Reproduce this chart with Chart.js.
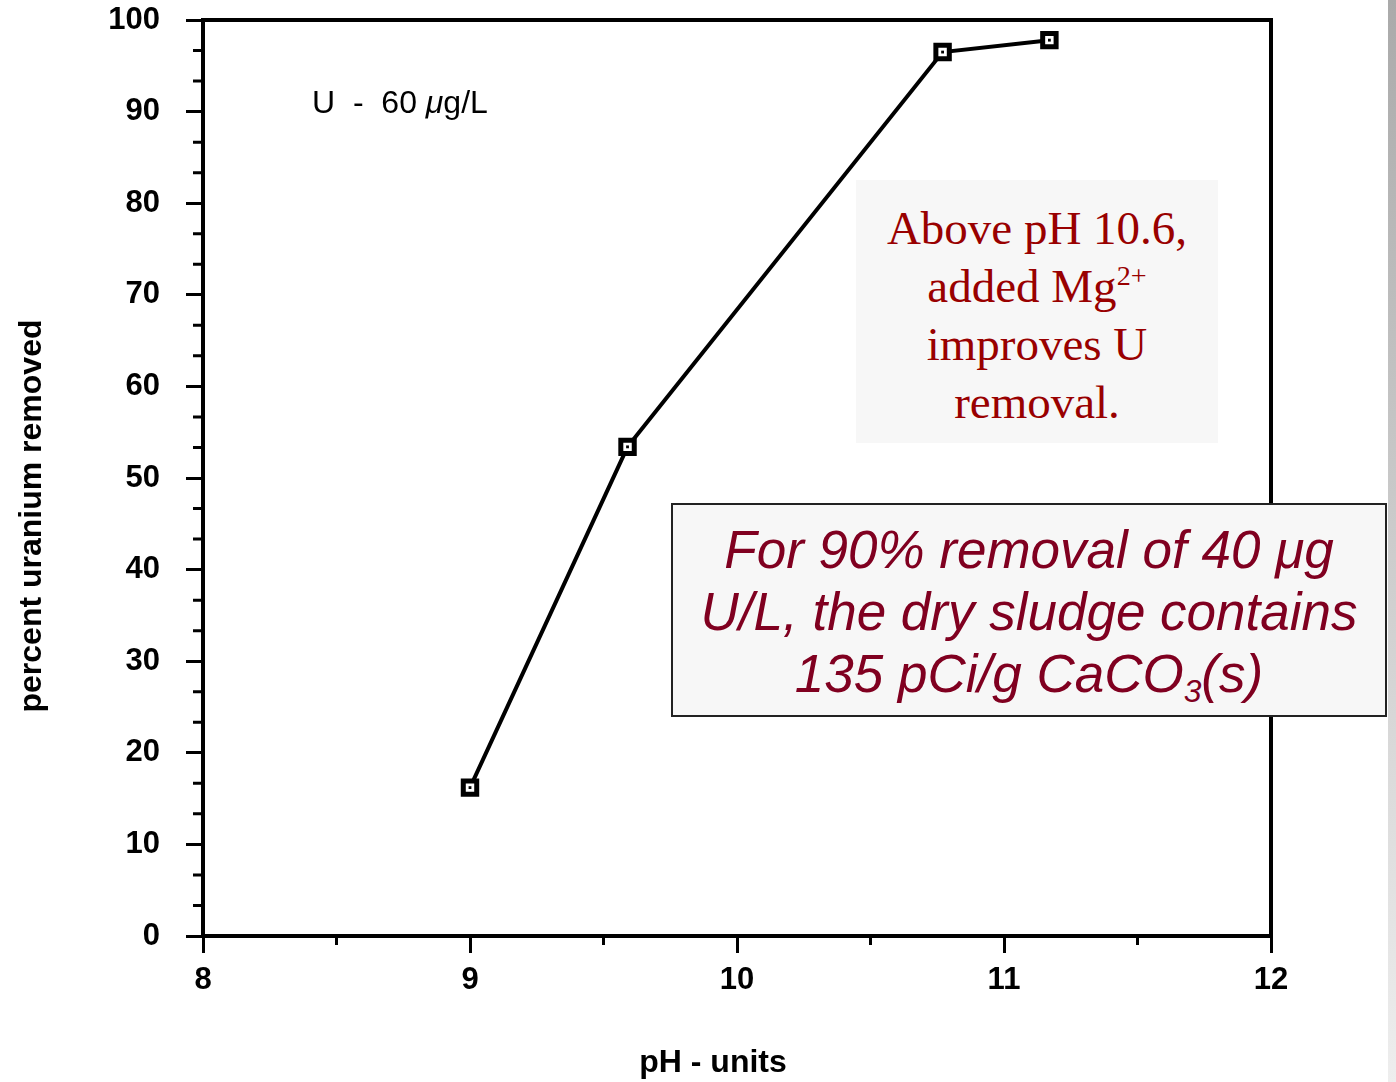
<!DOCTYPE html>
<html>
<head>
<meta charset="utf-8">
<title>Percent uranium removed vs pH</title>
<script src="https://cdn.jsdelivr.net/npm/chart.js@4.4.1/dist/chart.umd.min.js"></script>
<style>
  body { margin: 0; background: #fff; }
  .wrap { position: relative; width: 1396px; height: 1082px; overflow: hidden; }
  canvas { position: absolute; left: 0; top: 0; }
  .note {
    position: absolute; left: 312px; top: 84px;
    font: 32px "Liberation Sans", Arial, sans-serif; color: #000; white-space: pre;
  }
  .mg {
    position: absolute; left: 856px; top: 180px; width: 362px; height: 263px;
    box-sizing: border-box; padding-top: 19px;
    background: #f7f7f7; color: #990000; text-align: center;
    font: 47px/58px "Liberation Serif", "Times New Roman", serif;
  }
  .sludge {
    position: absolute; left: 671px; top: 503px; width: 716px; height: 214px;
    box-sizing: border-box; padding-top: 14px;
    border: 2px solid #222; background: #f7f7f7; color: #800020; text-align: center;
    font: italic 53px/62px "Liberation Sans", Arial, sans-serif;
  }
  .sup { font-size: 0.6em; line-height: 0; position: relative; top: -0.6em; }
  .sub { font-size: 0.6em; line-height: 0; position: relative; top: 0.3em; }
  .edge { position: absolute; right: 0; top: 0; width: 8px; height: 100%; background: linear-gradient(#aaa, #eee); }
</style>
</head>
<body>

<div class="wrap">
    <canvas id="chart" width="1396" height="1082"></canvas>
    <div class="note">U  -  60 <i>μ</i>g/L</div>
    <div class="mg">Above pH 10.6,<br>added Mg<span class="sup">2+</span><br>improves U<br>removal.</div>
    <div class="sludge">For 90% removal of 40 μg<br>U/L, the dry sludge contains<br>135 pCi/g CaCO<span class="sub">3</span>(s)</div>
    <div class="edge"></div>
</div>

<script>

    const phValues = [9.0, 9.59, 10.77, 11.17]
    const percentRemoved = [16.2, 53.4, 96.5, 97.8]

    const xTicks = [8, 9, 10, 11, 12]
    const yTicks = [0, 10, 20, 30, 40, 50, 60, 70, 80, 90, 100]
    const xMinor = [8.5, 9.5, 10.5, 11.5]
    const yMinor = yTicks.slice(0, -1).flatMap(v => [v + 10 / 3, v + 20 / 3])

    const xTitle = "pH - units"
    const yTitle = "percent uranium removed"

    const points = phValues.map((ph, i) => ({x: ph, y: percentRemoved[i]}))

    const tickFont = {family: '"Liberation Sans", Arial, sans-serif', size: 31, weight: 'bold'}

    const frame = {
        id: 'frame',
        afterDraw(chart) {
            const {ctx, chartArea: a, scales: {x, y}} = chart
            ctx.save()
            ctx.strokeStyle = '#000'
            ctx.lineWidth = 4
            ctx.beginPath()
            ctx.moveTo(a.left - 2, a.top)
            ctx.lineTo(a.right, a.top)
            ctx.lineTo(a.right, a.bottom)
            ctx.stroke()

            ctx.lineWidth = 3
            ctx.beginPath()
            yMinor.forEach(v => {
                const py = y.getPixelForValue(v)
                ctx.moveTo(a.left, py)
                ctx.lineTo(a.left - 10, py)
            })
            xMinor.forEach(v => {
                const px = x.getPixelForValue(v)
                ctx.moveTo(px, a.bottom)
                ctx.lineTo(px, a.bottom + 9)
            })
            ctx.stroke()

            ctx.fillStyle = '#000'
            ctx.font = 'bold 32px "Liberation Sans", Arial, sans-serif'
            ctx.textAlign = 'center'
            ctx.textBaseline = 'middle'
            ctx.fillText(xTitle, 713, 1063)
            ctx.translate(32, 516)
            ctx.rotate(-Math.PI / 2)
            ctx.fillText(yTitle, 0, 0)
            ctx.restore()
        }
    }

    new Chart(document.getElementById('chart'), {
        type: 'scatter',
        data: {
            datasets: [
                {
                    // little dot inside each square marker
                    data: points,
                    order: 0,
                    showLine: false,
                    pointStyle: 'rect',
                    pointRadius: 2,
                    pointBackgroundColor: '#000',
                    pointBorderWidth: 0,
                },
                {
                    data: points,
                    order: 1,
                    showLine: true,
                    borderColor: '#000',
                    borderWidth: 4,
                    pointStyle: 'rect',
                    pointRadius: 9.5,
                    pointBorderWidth: 5,
                    pointBorderColor: '#000',
                    pointBackgroundColor: '#fff',
                }
            ]
        },
        options: {
            responsive: false,
            animation: false,
            layout: {padding: {top: 20, right: 125, left: 0, bottom: 0}},
            plugins: {legend: {display: false}, tooltip: {enabled: false}},
            scales: {
                x: {
                    type: 'linear',
                    min: 8,
                    max: 12,
                    afterBuildTicks: s => { s.ticks = xTicks.map(v => ({value: v})) },
                    afterFit: s => { s.height = 146 },
                    ticks: {font: tickFont, color: '#000', padding: 9},
                    grid: {drawOnChartArea: false, color: '#000', lineWidth: 3, tickLength: 17},
                    border: {display: true, color: '#000', width: 4},
                },
                y: {
                    min: 0,
                    max: 100,
                    afterBuildTicks: s => { s.ticks = yTicks.map(v => ({value: v})) },
                    afterFit: s => { s.width = 203; s.paddingTop = 0 },
                    ticks: {font: tickFont, color: '#000', padding: 26},
                    grid: {drawOnChartArea: false, color: '#000', lineWidth: 3, tickLength: 17},
                    border: {display: true, color: '#000', width: 4},
                }
            }
        },
        plugins: [frame]
    })

</script>

</body>
</html>
